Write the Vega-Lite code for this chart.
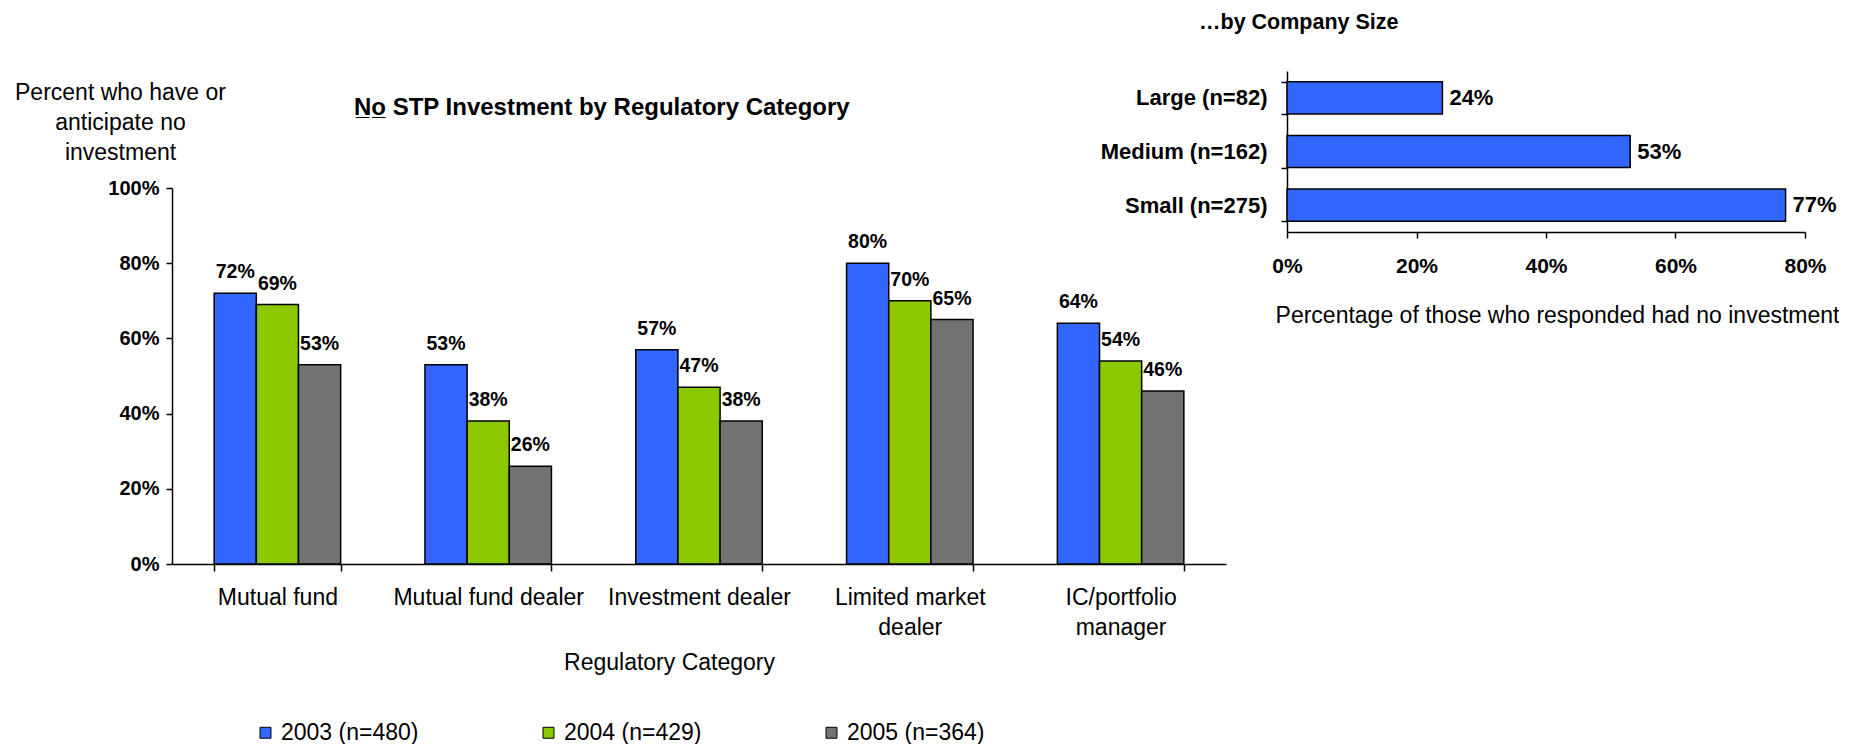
{
  "$schema": "https://vega.github.io/schema/vega-lite/v6.json",
  "padding": {"left": 14, "top": 11, "right": 0, "bottom": 0},
  "spacing": -126,
  "config": {
    "font": "Liberation Sans",
    "view": {"stroke": null},
    "axis": {"grid": false, "domainColor": "black", "tickColor": "black", "labelColor": "black", "titleColor": "black", "domainWidth": 1.5, "tickWidth": 1.5, "labelFlush": false, "labelOverlap": false}
  },
  "datasets": {
    "reg": [
      {"category": "Mutual fund", "year": "2003 (n=480)", "value": 0.72},
      {"category": "Mutual fund", "year": "2004 (n=429)", "value": 0.69},
      {"category": "Mutual fund", "year": "2005 (n=364)", "value": 0.53},
      {"category": "Mutual fund dealer", "year": "2003 (n=480)", "value": 0.53},
      {"category": "Mutual fund dealer", "year": "2004 (n=429)", "value": 0.38},
      {"category": "Mutual fund dealer", "year": "2005 (n=364)", "value": 0.26},
      {"category": "Investment dealer", "year": "2003 (n=480)", "value": 0.57},
      {"category": "Investment dealer", "year": "2004 (n=429)", "value": 0.47},
      {"category": "Investment dealer", "year": "2005 (n=364)", "value": 0.38},
      {"category": "Limited market dealer", "year": "2003 (n=480)", "value": 0.80},
      {"category": "Limited market dealer", "year": "2004 (n=429)", "value": 0.70},
      {"category": "Limited market dealer", "year": "2005 (n=364)", "value": 0.65},
      {"category": "IC/portfolio manager", "year": "2003 (n=480)", "value": 0.64},
      {"category": "IC/portfolio manager", "year": "2004 (n=429)", "value": 0.54},
      {"category": "IC/portfolio manager", "year": "2005 (n=364)", "value": 0.46}
    ],
    "size": [
      {"size": "Large (n=82)", "value": 0.24},
      {"size": "Medium (n=162)", "value": 0.53},
      {"size": "Small (n=275)", "value": 0.77}
    ]
  },
  "resolve": {"scale": {"color": "independent"}, "legend": {"color": "independent"}},
  "hconcat": [
    {
      "width": 1054,
      "height": 493,
      "data": {"name": "reg"},
      "title": {
        "text": "N̲o̲ STP Investment by Regulatory Category",
        "anchor": "start", "frame": "group", "dx": 182, "dy": 68, "offset": 0,
        "baseline": "alphabetic",
        "fontSize": 24, "fontWeight": "bold", "color": "black", "limit": 2000
      },
      "encoding": {
        "x": {
          "field": "category", "type": "nominal",
          "sort": ["Mutual fund", "Mutual fund dealer", "Investment dealer", "Limited market dealer", "IC/portfolio manager"],
          "scale": {"paddingInner": 0.4, "paddingOuter": 0.2},
          "axis": {
            "title": "Regulatory Category", "titleFontSize": 23, "titleFontWeight": "normal",
            "titleX": 497, "titleY": 105, "titleBaseline": "alphabetic", "titleAlign": "center",
            "labelAngle": 0, "labelFontSize": 23, "labelLineHeight": 30, "labelPadding": 15, "labelLimit": 400,
            "labelExpr": "datum.label == 'Limited market dealer' ? ['Limited market', 'dealer'] : datum.label == 'IC/portfolio manager' ? ['IC/portfolio', 'manager'] : datum.label",
            "tickBand": "extent", "tickSize": 7
          }
        },
        "xOffset": {"field": "year", "type": "nominal", "scale": {"paddingInner": 0}},
        "y": {
          "field": "value", "type": "quantitative",
          "scale": {"domain": [0, 1], "range": [493, 117]},
          "axis": {
            "values": [0, 0.2, 0.4, 0.6, 0.8, 1], "format": ".0%",
            "labelFontSize": 20, "labelFontWeight": "bold", "labelPadding": 7, "tickSize": 6,
            "title": ["Percent who have or", "anticipate no", "investment"],
            "titleAngle": 0, "titleAlign": "center", "titleBaseline": "alphabetic",
            "titleX": -52, "titleY": 28, "titleLineHeight": 30,
            "titleFontSize": 23, "titleFontWeight": "normal", "titleLimit": 1000
          }
        }
      },
      "layer": [
        {
          "mark": {"type": "bar", "stroke": "black", "strokeWidth": 1.5},
          "encoding": {
            "color": {
              "field": "year", "type": "nominal",
              "scale": {"domain": ["2003 (n=480)", "2004 (n=429)", "2005 (n=364)"], "range": ["#3366FF", "#8CC800", "#737373"]},
              "legend": {
                "title": null, "orient": "none", "legendX": 82, "legendY": 650,
                "direction": "horizontal", "columns": 3, "columnPadding": 118, "padding": 0,
                "symbolType": "square", "symbolSize": 120, "symbolStrokeColor": "black", "symbolStrokeWidth": 1,
                "labelFontSize": 23, "labelOffset": 4, "labelLimit": 300, "labelColor": "black"
              }
            }
          }
        },
        {
          "mark": {"type": "text", "baseline": "alphabetic", "dy": -15, "fontSize": 19.5, "fontWeight": "bold", "color": "black"},
          "encoding": {"text": {"field": "value", "type": "quantitative", "format": ".0%"}}
        }
      ]
    },
    {
      "width": 518,
      "height": 161,
      "data": {"name": "size"},
      "title": {
        "text": "…by Company Size", "anchor": "start", "frame": "group", "dx": -88, "offset": 10,
        "baseline": "alphabetic", "fontSize": 21.5, "fontWeight": "bold", "color": "black"
      },
      "encoding": {
        "y": {
          "field": "size", "type": "nominal", "sort": null,
          "scale": {"paddingInner": 0.4, "paddingOuter": 0.2},
          "axis": {"title": null, "tickBand": "extent", "tickSize": 6, "labelFontSize": 22, "labelFontWeight": "bold", "labelPadding": 14, "labelLimit": 300}
        },
        "x": {
          "field": "value", "type": "quantitative",
          "scale": {"domain": [0, 0.8]},
          "axis": {
            "values": [0, 0.2, 0.4, 0.6, 0.8], "format": ".0%",
            "labelFontSize": 21, "labelFontWeight": "bold", "labelPadding": 17, "tickSize": 6,
            "title": "Percentage of those who responded had no investment",
            "titleFontSize": 23, "titleFontWeight": "normal", "titleX": 270, "titleY": 90,
            "titleBaseline": "alphabetic", "titleAlign": "center", "titleLimit": 1000
          }
        }
      },
      "layer": [
        {"mark": {"type": "bar", "fill": "#3366FF", "stroke": "black", "strokeWidth": 1.5}},
        {
          "mark": {"type": "text", "align": "left", "baseline": "middle", "dx": 7, "fontSize": 22, "fontWeight": "bold", "color": "black"},
          "encoding": {"text": {"field": "value", "type": "quantitative", "format": ".0%"}}
        }
      ]
    }
  ]
}
